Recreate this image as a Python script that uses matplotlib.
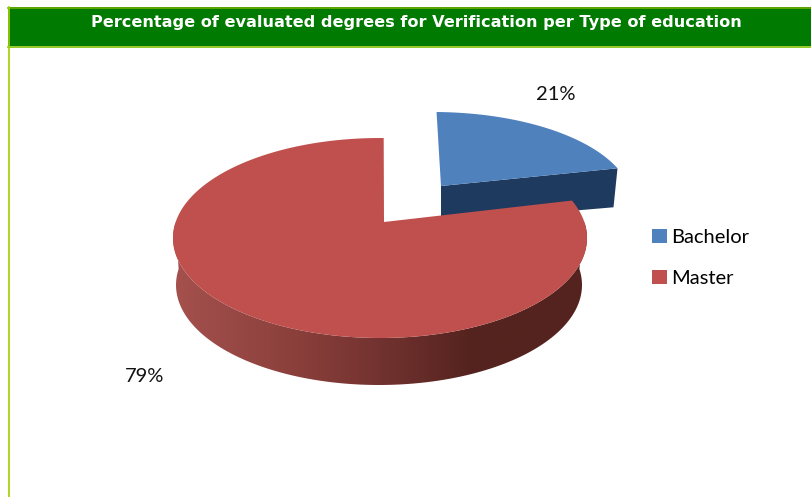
import numpy as np
import matplotlib
matplotlib.use("Agg")
import matplotlib.pyplot as plt
from matplotlib.colors import LinearSegmentedColormap
from matplotlib.patches import Polygon, Rectangle

title = "Percentage of evaluated degrees for Verification per Type of education"
categories = ["Bachelor", "Master"]
values = [21, 79]
colors = ["#4F81BD", "#C0504D"]

fig = plt.figure(figsize=(8.11, 4.97), dpi=100)
ax = fig.add_axes([0, 0, 1, 1])
ax.set_xlim(0, 811)
ax.set_ylim(497, 0)
ax.axis("off")

# header band and lime frame
ax.add_patch(Rectangle((8, 7), 803, 39, fc="#007A00", ec="none", zorder=1))
ax.plot([8, 811], [7.5, 7.5], color="#6FAE00", lw=1.2, zorder=2)
ax.plot([8, 811], [46.5, 46.5], color="#80C000", lw=1.2, zorder=2)
ax.plot([8.5, 8.5], [7, 497], color="#A0D000", lw=1.2, zorder=2)
ax.text(416, 22, title, color="white", ha="center", va="center",
        fontsize=11.65, fontweight="bold", family="DejaVu Sans", zorder=3)


# pie tilted in perspective: k moves the apex off the ellipse centre
def rim(deg, cx, cy, rx, ry, k=-0.16):
    t = np.radians(deg)
    u, v = np.sin(t), -np.cos(t)
    d = 1 + k * v
    return np.column_stack([cx + rx * u * np.sqrt(1 - k * k) / d, cy + ry * (v + k) / d])


start = 1.2
split = start + 360 * values[0] / sum(values)

# Bachelor slice, pulled out up and right
bx, by = 441, 202
b_arc = np.linspace(start, split, 60)
b_apex = np.array([[bx, by - 16]])
b_top = np.vstack([b_apex, rim(b_arc, bx - 8, by, 199, 90)])
corner = rim([split], bx - 8, by, 199, 90)
face = np.vstack([b_apex, corner, corner + [-4, 39], b_apex + [0, 36]])
ax.add_patch(Polygon(face, fc="#1F3A5F", ec="none", zorder=4))
ax.add_patch(Polygon(b_top, fc=colors[0], ec="none", zorder=5))

# Master slice
cx, cy, rx, ry, depth = 380, 238, 207, 100, 47
m_arc = np.linspace(split, 360 + start, 200)
m_top = np.vstack([[[cx + 4, cy - 16]], rim(m_arc, cx, cy, rx, ry)])

side_arc = np.linspace(90, 270, 120)
side = np.vstack([rim(side_arc, cx, cy, rx, ry), rim(side_arc[::-1], cx - 1, cy + depth, rx - 4, ry)])
side_poly = Polygon(side, fc="none", ec="none", zorder=6)
ax.add_patch(side_poly)
shade = LinearSegmentedColormap.from_list("shade", [(0, "#A5514E"), (0.3, "#8A3F3B"), (0.48, "#753431"),
                                                    (0.72, "#55231F"), (1, "#55231F")])
im = ax.imshow(np.linspace(0, 1, 256).reshape(1, -1), extent=[173, 587, 400, 200], cmap=shade,
               aspect="auto", zorder=6)
im.set_clip_path(side_poly)
ax.set_xlim(0, 811)
ax.set_ylim(497, 0)
ax.add_patch(Polygon(m_top, fc=colors[1], ec="none", zorder=7))

# percent labels
ax.text(556, 94, f"{values[0]}%", ha="center", va="center", fontsize=14.5, family="Lato", color="#111111", zorder=8)
ax.text(145, 377, f"{values[1]}%", ha="center", va="center", fontsize=14.5, family="Lato", color="#111111", zorder=8)

# legend
handles = [Rectangle((0, 0), 1, 1, fc=c, ec="none") for c in colors]
leg = ax.legend(handles, categories, loc="upper left", bbox_to_anchor=(646 / 811, 1 - 223 / 497), frameon=False,
                handlelength=0.72, handleheight=0.72, handletextpad=0.22, labelspacing=1.18,
                prop={"family": "Lato", "size": 14.5}, borderpad=0.3, borderaxespad=0)
leg.set_zorder(8)

fig.savefig("out.png", dpi=100)
